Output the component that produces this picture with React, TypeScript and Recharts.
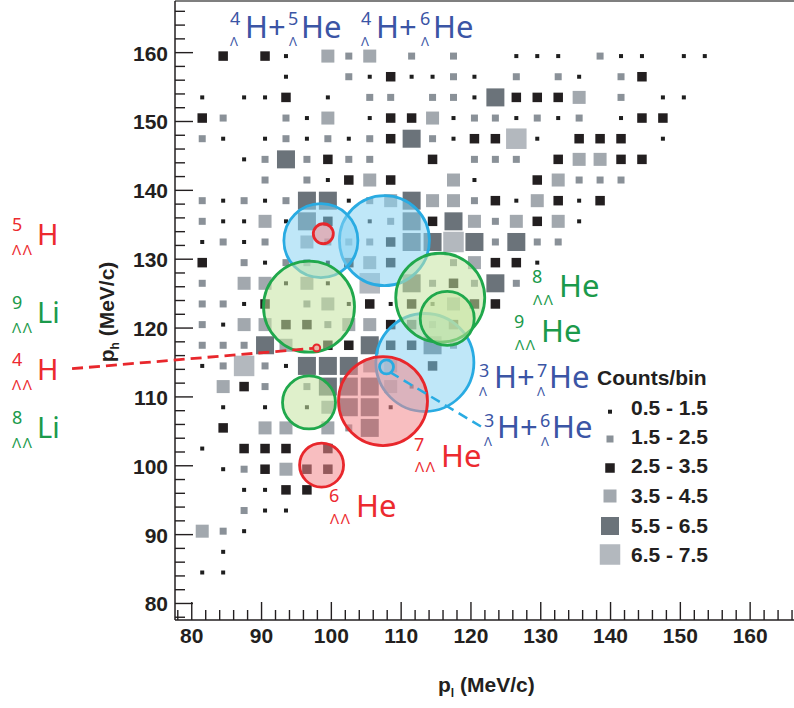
import React from 'react';
import { ScatterChart, Scatter, XAxis, YAxis, ReferenceDot, ReferenceLine } from 'recharts';

// ---- data: bin centres (MeV/c) ----
const pL = [81.5, 84.5, 87.5, 90.5, 93.5, 96.5, 99.5, 102.5, 105.5, 108.5, 111.5, 114.5, 117.5, 120.5, 123.5, 126.5, 129.5, 132.5, 135.5, 138.5, 141.5, 144.5, 147.5, 150.5, 153.5];
const pH = [159.5, 156.5, 153.5, 150.5, 147.5, 144.5, 141.5, 138.5, 135.5, 132.5, 129.5, 126.5, 123.5, 120.5, 117.5, 114.5, 111.5, 108.5, 105.5, 102.5, 99.5, 96.5, 93.5, 90.5, 87.5, 84.5];

// counts per bin, one array per p_h row (top to bottom), one entry per p_l column
const counts: number[][] = [
  [0, 3, 0, 3, 1, 0, 4, 2, 4, 0, 2, 0, 2, 0, 0, 1, 1, 1, 0, 2, 1, 1, 0, 1, 1],
  [0, 0, 0, 0, 1, 0, 0, 2, 1, 3, 1, 1, 2, 1, 0, 2, 0, 2, 1, 0, 2, 3, 0, 0, 0],
  [1, 0, 1, 1, 3, 0, 1, 0, 2, 2, 0, 2, 2, 1, 6, 3, 3, 3, 4, 0, 2, 0, 1, 1, 0],
  [3, 2, 0, 0, 2, 1, 4, 0, 1, 3, 3, 4, 1, 2, 2, 1, 2, 1, 2, 0, 1, 3, 3, 0, 0],
  [2, 1, 0, 1, 2, 1, 2, 1, 2, 3, 6, 2, 1, 3, 3, 7, 1, 0, 3, 3, 3, 0, 1, 0, 0],
  [0, 0, 1, 2, 6, 2, 3, 2, 2, 0, 0, 3, 0, 2, 2, 2, 0, 3, 4, 4, 3, 3, 0, 0, 0],
  [0, 0, 0, 2, 0, 2, 1, 3, 4, 3, 0, 0, 4, 1, 0, 0, 3, 4, 2, 2, 2, 0, 0, 0, 0],
  [2, 1, 2, 1, 2, 6, 6, 1, 2, 4, 6, 4, 4, 2, 3, 1, 4, 3, 1, 3, 0, 0, 0, 0, 0],
  [2, 1, 1, 4, 1, 6, 3, 0, 1, 2, 6, 3, 6, 4, 2, 4, 3, 4, 1, 0, 0, 0, 0, 0, 0],
  [1, 2, 1, 2, 0, 4, 2, 2, 2, 3, 6, 6, 7, 6, 2, 6, 2, 2, 0, 0, 0, 0, 0, 0, 0],
  [3, 0, 2, 1, 2, 2, 1, 3, 4, 3, 0, 0, 2, 4, 3, 3, 1, 0, 0, 0, 0, 0, 0, 0, 0],
  [2, 0, 4, 4, 1, 4, 1, 0, 7, 0, 6, 2, 3, 2, 6, 2, 0, 0, 0, 0, 0, 0, 0, 0, 0],
  [2, 2, 1, 3, 0, 2, 4, 1, 3, 1, 3, 1, 4, 3, 3, 0, 0, 0, 0, 0, 0, 0, 0, 0, 0],
  [2, 1, 4, 4, 3, 3, 2, 4, 4, 3, 3, 2, 3, 0, 0, 0, 0, 0, 0, 0, 0, 0, 0, 0, 0],
  [2, 2, 2, 6, 4, 0, 3, 3, 6, 3, 3, 6, 2, 0, 0, 0, 0, 0, 0, 0, 0, 0, 0, 0, 0],
  [1, 2, 7, 2, 1, 6, 6, 6, 4, 4, 0, 3, 0, 0, 0, 0, 0, 0, 0, 0, 0, 0, 0, 0, 0],
  [0, 4, 3, 2, 0, 2, 6, 6, 6, 4, 1, 0, 0, 0, 0, 0, 0, 0, 0, 0, 0, 0, 0, 0, 0],
  [0, 1, 0, 1, 0, 1, 4, 6, 6, 1, 0, 0, 0, 0, 0, 0, 0, 0, 0, 0, 0, 0, 0, 0, 0],
  [0, 3, 0, 4, 4, 0, 4, 2, 6, 0, 0, 0, 0, 0, 0, 0, 0, 0, 0, 0, 0, 0, 0, 0, 0],
  [1, 0, 3, 3, 3, 0, 3, 0, 0, 0, 0, 0, 0, 0, 0, 0, 0, 0, 0, 0, 0, 0, 0, 0, 0],
  [0, 1, 2, 3, 4, 3, 3, 0, 0, 0, 0, 0, 0, 0, 0, 0, 0, 0, 0, 0, 0, 0, 0, 0, 0],
  [0, 0, 1, 1, 3, 3, 0, 0, 0, 0, 0, 0, 0, 0, 0, 0, 0, 0, 0, 0, 0, 0, 0, 0, 0],
  [0, 0, 2, 1, 1, 0, 0, 0, 0, 0, 0, 0, 0, 0, 0, 0, 0, 0, 0, 0, 0, 0, 0, 0, 0],
  [4, 2, 1, 0, 0, 0, 0, 0, 0, 0, 0, 0, 0, 0, 0, 0, 0, 0, 0, 0, 0, 0, 0, 0, 0],
  [0, 1, 0, 0, 0, 0, 0, 0, 0, 0, 0, 0, 0, 0, 0, 0, 0, 0, 0, 0, 0, 0, 0, 0, 0],
  [1, 1, 0, 0, 0, 0, 0, 0, 0, 0, 0, 0, 0, 0, 0, 0, 0, 0, 0, 0, 0, 0, 0, 0, 0],
];

// legend classes
const countLevels = [1, 2, 3, 4, 6, 7];
const countLabels = ['0.5 - 1.5', '1.5 - 2.5', '2.5 - 3.5', '3.5 - 4.5', '5.5 - 6.5', '6.5 - 7.5'];

// axis ticks
const majorTicks = [80, 90, 100, 110, 120, 130, 140, 150, 160];
const allTicks: number[] = [];
for (let t = 78; t <= 166; t += 2) allTicks.push(t);

// annotation circles (centre in MeV/c)
const BLUE_C = { stroke: '#29abe2', fill: '#8ad4f2' };
const GREEN_C = { stroke: '#20a84c', fill: '#c5e3a0' };
const RED_C = { stroke: '#e8272c', fill: '#f3888c' };
const circles = [
  { name: '4LH+6LHe', x: 107.6, y: 132.7, r: 45, c: BLUE_C },
  { name: '4LH+5LHe', x: 98.5, y: 132.7, r: 37, c: BLUE_C },
  { name: '3LH+7LHe', x: 113.4, y: 115.0, r: 49, c: BLUE_C },
  { name: '9LLLi', x: 96.8, y: 123.1, r: 45.5, c: GREEN_C },
  { name: '8LLHe', x: 115.6, y: 124.4, r: 44.5, c: GREEN_C },
  { name: '9LLHe', x: 116.6, y: 121.4, r: 27, c: GREEN_C },
  { name: '8LLLi', x: 96.8, y: 109.2, r: 26.5, c: GREEN_C },
  { name: '7LLHe', x: 107.4, y: 109.4, r: 44.5, c: RED_C },
  { name: '6LLHe', x: 98.6, y: 100.1, r: 22, c: RED_C },
  { name: '5LLH', x: 98.85, y: 133.7, r: 10, c: RED_C },
  { name: '4LLH', x: 97.9, y: 117.1, r: 3.5, c: RED_C },
  { name: '3LH+6LHe', x: 107.9, y: 114.35, r: 7, c: BLUE_C },
];

const BLUE = '#3b55a5';
const RED = '#ec2a2f';
const GREEN = '#1b9a4b';

const boxStyle: Record<number, { s: number; f: string }> = {
  1: { s: 4, f: '#1e1e1e' },
  2: { s: 7, f: '#8a9198' },
  3: { s: 9.5, f: '#231f20' },
  4: { s: 13, f: '#a2a8ae' },
  6: { s: 18, f: '#6b737a' },
  7: { s: 20.5, f: '#b3b8be' },
};

const cells: { x: number; y: number; c: number }[] = [];
counts.forEach((row, j) => {
  row.forEach((c, i) => {
    if (c > 0) cells.push({ x: pL[i], y: pH[j], c });
  });
});

const AX = '#231f20';
const AXFONT = '"Liberation Sans", Arial, Helvetica, sans-serif';

const Box = (props: any) => {
  const { cx, cy, payload } = props;
  const st = boxStyle[payload.c];
  if (cx == null || cy == null || !st) return null;
  return <rect x={cx - st.s / 2} y={cy - st.s / 2} width={st.s} height={st.s} fill={st.f} />;
};

const XTick = (props: any) => {
  const { x, y, payload } = props;
  const v = payload.value;
  const major = majorTicks.includes(v);
  return (
    <g>
      <line x1={x} x2={x} y1={y} y2={y - (major ? 18 : 10)} stroke={AX} strokeWidth={1.4} />
      {major && (
        <text x={x} y={y + 23} textAnchor="middle" fontFamily={AXFONT} fontWeight="bold" fontSize={21} fill={AX}>
          {v}
        </text>
      )}
    </g>
  );
};

const YTick = (props: any) => {
  const { x, y, payload } = props;
  const v = payload.value;
  const major = majorTicks.includes(v);
  return (
    <g>
      <line x1={x} x2={x + (major ? 18 : 10)} y1={y} y2={y} stroke={AX} strokeWidth={1.4} />
      {major && (
        <text x={x - 7} y={y + 8} textAnchor="end" fontFamily={AXFONT} fontWeight="bold" fontSize={21} fill={AX}>
          {v}
        </text>
      )}
    </g>
  );
};

// nuclide label pieces: [text, x, baseline, fontSize]
type Piece = [string, number, number, number];
const labels: { color: string; pieces: Piece[] }[] = [
  { color: BLUE, pieces: [['4', 230, 25, 18], ['Λ', 230, 46, 13], ['H+', 245, 38, 31], ['5', 288, 25, 18], ['Λ', 289, 46, 13], ['He', 301, 38, 31]] },
  { color: BLUE, pieces: [['4', 361, 25, 18], ['Λ', 361, 46, 13], ['H+', 376, 38, 31], ['6', 420, 25, 18], ['Λ', 421, 46, 13], ['He', 433, 38, 31]] },
  { color: BLUE, pieces: [['3', 479, 377, 18], ['Λ', 479, 396, 13], ['H+', 494, 388, 31], ['7', 537, 377, 18], ['Λ', 537, 396, 13], ['He', 549, 388, 31]] },
  { color: BLUE, pieces: [['3', 484, 427, 18], ['Λ', 484, 446, 13], ['H+', 497, 438, 31], ['6', 540, 427, 18], ['Λ', 541, 446, 13], ['He', 552, 438, 31]] },
  { color: GREEN, pieces: [['8', 532, 283, 18], ['ΛΛ', 533, 305, 15], ['He', 559, 297, 31]] },
  { color: GREEN, pieces: [['9', 514, 328, 18], ['ΛΛ', 515, 350, 15], ['He', 541, 342, 31]] },
  { color: RED, pieces: [['7', 414, 451, 18], ['ΛΛ', 415, 472, 15], ['He', 441, 467, 31]] },
  { color: RED, pieces: [['6', 329, 502, 18], ['ΛΛ', 330, 524, 15], ['He', 356, 517, 31]] },
  { color: RED, pieces: [['5', 12, 231, 18], ['ΛΛ', 12, 255, 15], ['H', 37, 245, 29]] },
  { color: GREEN, pieces: [['9', 12, 309, 18], ['ΛΛ', 12, 333, 15], ['Li', 37, 323, 29]] },
  { color: RED, pieces: [['4', 12, 366, 18], ['ΛΛ', 12, 390, 15], ['H', 37, 380, 29]] },
  { color: GREEN, pieces: [['8', 12, 424, 18], ['ΛΛ', 12, 448, 15], ['Li', 37, 438, 29]] },
];

const legendMarkerY = [411.7, 439, 468, 496, 526, 554.5];
const legendTextY = [415, 444, 473, 503, 533, 562];

export default function App() {
  return (
    <div style={{ position: 'absolute', left: 0, top: 0, width: 794, height: 708, overflow: 'hidden', background: '#fff' }}>
      <ScatterChart width={810} height={708} margin={{ top: 1, right: 7.5, bottom: 0, left: 0 }}>
        <XAxis
          type="number"
          dataKey="x"
          domain={[77.6, 167.5]}
          ticks={allTicks}
          interval={0}
          tick={<XTick />}
          tickLine={false}
          tickSize={0}
          tickMargin={0}
          height={88}
          axisLine={{ stroke: AX, strokeWidth: 1.5 }}
          allowDataOverflow
        />
        <YAxis
          type="number"
          dataKey="y"
          domain={[77.6, 167.5]}
          ticks={allTicks}
          interval={0}
          tick={<YTick />}
          tickLine={false}
          tickSize={0}
          tickMargin={0}
          width={175}
          axisLine={{ stroke: AX, strokeWidth: 1.5 }}
          allowDataOverflow
        />
        <ReferenceLine y={167.5} stroke="#555" strokeWidth={1.5} ifOverflow="visible" />
        <Scatter data={cells} shape={<Box />} isAnimationActive={false} />
        {circles.map((c) => (
          <ReferenceDot
            key={c.name}
            x={c.x}
            y={c.y}
            r={c.r}
            fill={c.c.fill}
            fillOpacity={0.55}
            stroke={c.c.stroke}
            strokeWidth={c.r < 5 ? 2 : 2.8}
            ifOverflow="visible"
            zIndex={900}
          />
        ))}
        <ReferenceLine
          segment={[{ x: 62.85, y: 114.1 }, { x: 97.4, y: 117.05 }]}
          stroke={RED_C.stroke}
          strokeWidth={2.8}
          strokeDasharray="11 6"
          ifOverflow="visible"
          zIndex={950}
        />
        <ReferenceLine
          segment={[{ x: 108.4, y: 113.6 }, { x: 121.6, y: 105.6 }]}
          stroke={BLUE_C.stroke}
          strokeWidth={2.5}
          strokeDasharray="10 6"
          ifOverflow="visible"
          zIndex={950}
        />
      </ScatterChart>
      <svg width={794} height={708} style={{ position: 'absolute', left: 0, top: 0, pointerEvents: 'none' }}>
        {labels.map((l, k) => (
          <g key={k} fill={l.color} fontFamily='"Noto Sans", "Open Sans", sans-serif'>
            {l.pieces.map((p, m) => (
              <text key={m} x={p[1]} y={p[2]} fontSize={p[3]} letterSpacing={p[0] === 'ΛΛ' ? 1.5 : 0}>
                {p[0]}
              </text>
            ))}
          </g>
        ))}
        {/* axis titles */}
        <text x={438} y={692} fontFamily={AXFONT} fontWeight="bold" fontSize={21} fill={AX}>
          p<tspan fontSize={12} dy={5}>l</tspan>
          <tspan dy={-5}> (MeV/c)</tspan>
        </text>
        <g transform="translate(114 312) rotate(-90)">
          <text x={0} y={0} textAnchor="middle" fontFamily={AXFONT} fontWeight="bold" fontSize={21} fill={AX}>
            p<tspan fontSize={12} dy={5}>h</tspan>
            <tspan dy={-5}> (MeV/c)</tspan>
          </text>
        </g>
        {/* legend */}
        <text x={597} y={385} fontFamily={AXFONT} fontWeight="bold" fontSize={21} fill={AX}>
          Counts/bin
        </text>
        {countLevels.map((c, k) => {
          const st = boxStyle[c];
          return (
            <g key={c}>
              <rect x={610 - st.s / 2} y={legendMarkerY[k] - st.s / 2} width={st.s} height={st.s} fill={st.f} />
              <text x={631} y={legendTextY[k]} fontFamily={AXFONT} fontWeight="bold" fontSize={21} fill={AX}>
                {countLabels[k]}
              </text>
            </g>
          );
        })}
      </svg>
    </div>
  );
}
